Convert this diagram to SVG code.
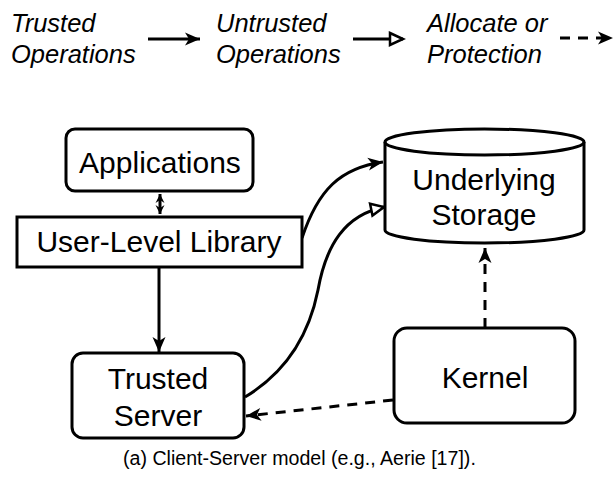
<svg xmlns="http://www.w3.org/2000/svg" width="615" height="479" viewBox="0 0 615 479">
<style>
text{font-family:"Liberation Sans",Arial,sans-serif;fill:#000}
.lg{font-size:25.5px;font-style:italic}
.lb{font-size:30px;text-anchor:middle}
.cap{font-size:19.6px}
.box{fill:#fff;stroke:#000;stroke-width:3}
.ln{fill:none;stroke:#000;stroke-width:3}
.dash{stroke-dasharray:10 8}
</style>
<defs>
<marker id="ah" markerUnits="userSpaceOnUse" markerWidth="18" markerHeight="16" refX="15" refY="6.5" orient="auto" overflow="visible">
<path d="M0,0 L15,6.5 L0,13 L4,6.5 Z" fill="#000"/>
</marker>
<marker id="ahs" markerUnits="userSpaceOnUse" markerWidth="12" markerHeight="10" refX="9" refY="4.5" orient="auto-start-reverse" overflow="visible">
<path d="M0,0 L9,4.5 L0,9 L3,4.5 Z" fill="#000"/>
</marker>
<marker id="ao" markerUnits="userSpaceOnUse" markerWidth="18" markerHeight="16" refX="14" refY="6.5" orient="auto" overflow="visible">
<path d="M1,0.5 L14,6.5 L1,12.5 Z" fill="#fff" stroke="#000" stroke-width="2.5"/>
</marker>
</defs>

<g id="legend">
<text class="lg" x="11" y="32">Trusted</text>
<text class="lg" x="11" y="63">Operations</text>
<line class="ln" x1="148" y1="39" x2="200" y2="39" marker-end="url(#ah)"/>
<text class="lg" x="216" y="32">Untrusted</text>
<text class="lg" x="216" y="63">Operations</text>
<line class="ln" x1="353" y1="39" x2="403" y2="39" marker-end="url(#ao)"/>
<text class="lg" x="427" y="32">Allocate or</text>
<text class="lg" x="427" y="63">Protection</text>
<line class="ln dash" x1="560" y1="38" x2="613" y2="38" marker-end="url(#ah)"/>
</g>

<g id="connectors">
<line class="ln" x1="160" y1="194" x2="160" y2="214" stroke-width="2" marker-start="url(#ahs)" marker-end="url(#ahs)"/>
<line class="ln" x1="159" y1="268" x2="159" y2="352" marker-end="url(#ah)"/>
<path class="ln" d="M302,238 C318,190 340,168 383,162" marker-end="url(#ah)"/>
<path class="ln" d="M245,397 C290,370 310,330 318,290 C326,245 345,215 384,207" marker-end="url(#ao)"/>
<line class="ln dash" x1="485" y1="328" x2="485" y2="248" marker-end="url(#ah)"/>
<line class="ln dash" x1="393" y1="400" x2="246" y2="416" marker-end="url(#ah)"/>
</g>

<g id="applications">
<rect class="box" x="66" y="129" width="187" height="62" rx="9"/>
<text class="lb" x="160" y="173">Applications</text>
</g>

<g id="library">
<rect class="box" x="17" y="217" width="285" height="50"/>
<text class="lb" x="159" y="252">User-Level Library</text>
</g>

<g id="storage">
<path class="box" d="M385,142 A99.5,13 0 0 1 584,142 L584,230 A99.5,13 0 0 1 385,230 Z"/>
<path class="ln" d="M385,142 A99.5,13 0 0 0 584,142"/>
<text class="lb" x="484" y="190">Underlying</text>
<text class="lb" x="484" y="225">Storage</text>
</g>

<g id="trusted-server">
<rect class="box" x="72" y="353" width="172" height="85" rx="11"/>
<text class="lb" x="158" y="389">Trusted</text>
<text class="lb" x="158" y="426">Server</text>
</g>

<g id="kernel">
<rect class="box" x="394" y="328" width="181" height="95" rx="13"/>
<text class="lb" x="485" y="388">Kernel</text>
</g>

<text class="cap" x="123" y="465">(a) Client-Server model (e.g., Aerie [17]).</text>
</svg>
